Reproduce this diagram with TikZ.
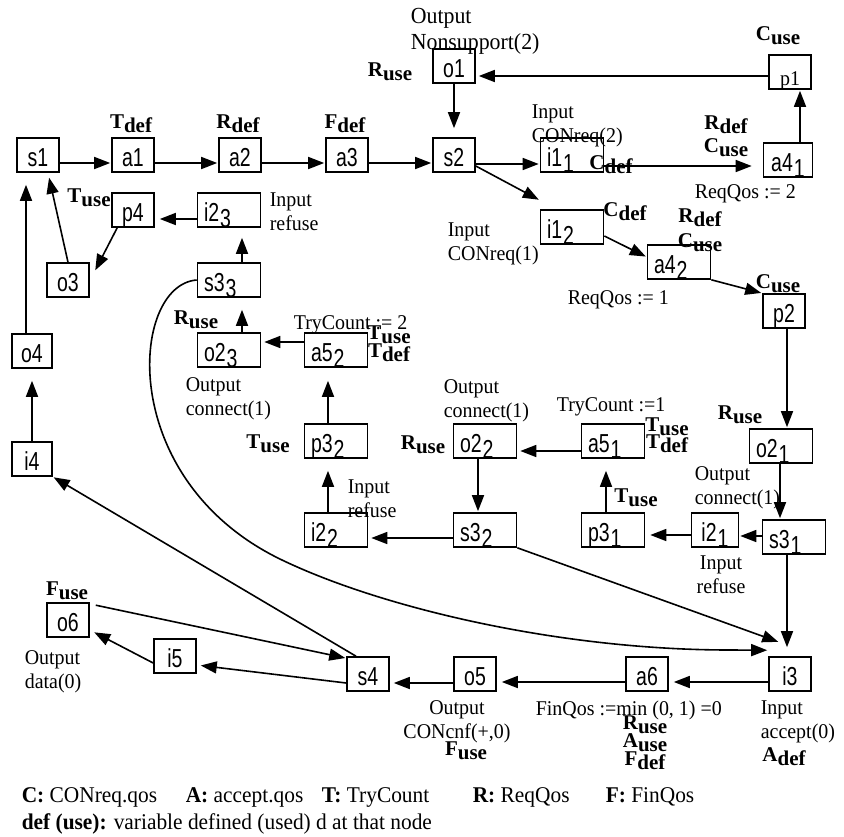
\documentclass[tikz,border=0pt]{standalone}
\usepackage{fontspec}
\setmainfont{Liberation Serif}[FakeStretch=0.95]
\newfontfamily\varfont{Liberation Serif}
\newfontfamily\boxfont{Liberation Sans}[FakeStretch=0.75]
\usetikzlibrary{arrows.meta}

\newcommand{\vardu}[2]{\textbf{#1\raisebox{-4pt}{#2}}}
\newcommand{\bsub}[1]{\kern1pt\raisebox{-6pt}{#1}}

\tikzset{
  box/.style={draw, minimum width=42pt, minimum height=34pt, inner sep=0pt,
              text height=24pt, text depth=2pt, font=\boxfont\fontsize{26}{26}\selectfont},
  wbox/.style={box, minimum width=63pt, text width=50pt, align=left},
  lbl/.style={inner sep=0pt, anchor=north west, align=left, font=\fontsize{21}{24}\selectfont},
  var/.style={inner sep=0pt, align=center, font=\varfont\fontsize{21}{24}\selectfont},
}

\begin{document}
\begin{tikzpicture}[x=1pt,y=-1pt,>={Triangle[length=16pt,width=12pt]},shorten >=1pt,line width=1.6pt]
\useasboundingbox (0,0) rectangle (844,836);

% process boxes
\node[box]  (s1)  at (38,155)  {s1};
\node[box]  (a1)  at (133,155) {a1};
\node[box]  (a2)  at (240,155) {a2};
\node[box]  (a3)  at (347,155) {a3};
\node[box]  (s2)  at (454,155) {s2};
\node[wbox] (i11) at (572,155) {i1\bsub{1}};
\node[box]  (o1)  at (454,66)  {o1};
\node[box, font=\fontsize{21}{21}\selectfont, text height=28pt, text depth=2pt]
            (p1)  at (790,72)  {p1};
\node[box, minimum width=49pt] (a41) at (788,160) {a4\bsub{1}};
\node[box]  (p4)  at (133,210) {p4};
\node[wbox] (i23) at (229,210) {i2\bsub{3}};
\node[box]  (o3)  at (68,280)  {o3};
\node[wbox] (s33) at (229,280) {s3\bsub{3}};
\node[wbox] (o23) at (229,350) {o2\bsub{3}};
\node[wbox] (a52) at (336,350) {a5\bsub{2}};
\node[box, minimum width=40pt] (o4) at (32,351) {o4};
\node[box, minimum width=40pt] (i4) at (32,459) {i4};
\node[wbox] (p32) at (336,441) {p3\bsub{2}};
\node[wbox] (i22) at (336,530) {i2\bsub{2}};
\node[wbox] (i12) at (572,227) {i1\bsub{2}};
\node[wbox] (a42) at (679,262) {a4\bsub{2}};
\node[box]  (p2)  at (784,311) {p2};
\node[wbox] (o21) at (781,446) {o2\bsub{1}};
\node[wbox] (o22) at (485,441) {o2\bsub{2}};
\node[wbox] (a51) at (613,441) {a5\bsub{1}};
\node[wbox] (s32) at (485,530) {s3\bsub{2}};
\node[wbox] (p31) at (613,530) {p3\bsub{1}};
\node[box, minimum width=47pt] (i21) at (715,530) {i2\bsub{1}};
\node[wbox] (s31) at (794,537) {s3\bsub{1}};
\node[box]  (i3)  at (790,674) {i3};
\node[box]  (a6)  at (647,674) {a6};
\node[box]  (o5)  at (475,674) {o5};
\node[box]  (s4)  at (368,674) {s4};
\node[box]  (i5)  at (175,656) {i5};
\node[box]  (o6)  at (68,620)  {o6};

% texts
\node[lbl, font=\fontsize{23}{26}\selectfont] (tnons) at (410,7) {Output\\Nonsupport(2)};
\node[lbl] (tcon2)  at (531,104) {Input\\CONreq(2)};
\node[lbl] (treq2)  at (694,184) {ReqQos := 2};
\node[lbl] (tcon1)  at (447,222) {Input\\CONreq(1)};
\node[lbl] (treq1)  at (567,290) {ReqQos := 1};
\node[lbl] (tref3)  at (269,192) {Input\\refuse};
\node[lbl] (ttry2)  at (293,315) {TryCount := 2};
\node[lbl] (tconn3) at (185,377) {Output\\connect(1)};
\node[lbl] (tref2)  at (347,479) {Input\\refuse};
\node[lbl] (tconn2) at (443,379) {Output\\connect(1)};
\node[lbl] (ttry1)  at (556,397) {TryCount :=1};
\node[lbl] (tconn1) at (694,466) {Output\\connect(1)};
\node[lbl, anchor=north, align=center] (tref1) at (721,555) {Input\\refuse};
\node[lbl] (tdata)  at (24,650)  {Output\\data(0)};
\node[lbl, anchor=north, align=center] (tcnf) at (457,700) {Output\\CONcnf(+,0)};
\node[lbl] (tfin)   at (535,700) {FinQos :=min (0, 1) =0};
\node[lbl] (tacc)   at (760,700) {Input\\accept(0)};

% def / use marks
\node[var] (vo1)  at (390,72)  {\vardu{R}{use}};
\node[var] (vp1)  at (778,36)  {\vardu{C}{use}};
\node[var] (va1)  at (131,124) {\vardu{T}{def}};
\node[var] (va2)  at (238,124) {\vardu{R}{def}};
\node[var] (va3)  at (345,124) {\vardu{F}{def}};
\node[var] (va41) at (726,136) {\vardu{R}{def}\\[-1pt]\vardu{C}{use}};
\node[var] (vi11) at (611,165) {\vardu{C}{def}};
\node[var] (vp4)  at (89,198)  {\vardu{T}{use}};
\node[var] (vi12) at (625,212) {\vardu{C}{def}};
\node[var] (va42) at (700,230) {\vardu{R}{def}\\[1pt]\vardu{C}{use}};
\node[var] (vp2)  at (778,284) {\vardu{C}{use}};
\node[var] (vo23) at (196,320) {\vardu{R}{use}};
\node[var] (va52) at (389,344) {\vardu{T}{use}\\[-6pt]\vardu{T}{def}};
\node[var] (vp32) at (268,444) {\vardu{T}{use}};
\node[var] (vo22) at (423,445) {\vardu{R}{use}};
\node[var] (va51) at (667,435) {\vardu{T}{use}\\[-7pt]\vardu{T}{def}};
\node[var] (vo21) at (740,415) {\vardu{R}{use}};
\node[var] (vp31) at (636,498) {\vardu{T}{use}};
\node[var] (vo6)  at (67,591)  {\vardu{F}{use}};
\node[var] (vo5)  at (466,751) {\vardu{F}{use}};
\node[var] (va6)  at (645,743) {\vardu{R}{use}\\[-6pt]\vardu{A}{use}\\[-6pt]\vardu{F}{def}};
\node[var] (vi3)  at (784,757) {\vardu{A}{def}};

% legend
\node[lbl, font=\fontsize{22.5}{27}\selectfont] (legend) at (21,787) {\makebox[164pt][l]{\textbf{C:} CONreq.qos}\makebox[136pt][l]{\textbf{A:} accept.qos}\makebox[151pt][l]{\textbf{T:} TryCount}\makebox[133pt][l]{\textbf{R:} ReqQos}\textbf{F:} FinQos\\
  \textbf{def (use):} variable defined (used) d at that node};

\path[->] ([yshift=-8pt]s1.east)   edge ([yshift=-8pt]a1.west)
          ([yshift=-8pt]a1.east)   edge ([yshift=-8pt]a2.west)
          ([yshift=-8pt]a2.east)   edge ([yshift=-8pt]a3.west)
          ([yshift=-8pt]a3.east)   edge ([yshift=-8pt]s2.west)
          ([yshift=-9pt]s2.east)   edge ([yshift=-9pt]i11.west)
          ([yshift=-11pt]s2.east)  edge ([yshift=9pt]i12.north west)
          ([yshift=-11pt]i11.east) edge [shorten >=11pt] ([yshift=-6pt]a41.west)
          ([xshift=12pt]a41.north) edge ([xshift=10pt]p1.south)
          ([yshift=-4pt]p1.west)   edge [shorten >=3pt] ([yshift=-10pt]o1.east)
          (o1)                     edge [shorten >=9pt] (s2)
          ([yshift=-9pt]i12.east)  edge ([yshift=5pt]a42.west)
          (a42.south east)         edge (p2.north west)
          ([xshift=3pt]p2.south)   edge ([xshift=6pt]o21.north)
          ([xshift=-1pt]o21.south) edge ([xshift=-14pt]s31.north)
          ([yshift=1pt]s31.west)   edge ([yshift=-6pt]i21.east)
          ([yshift=-5pt]i21.west)  edge [shorten >=5pt] ([yshift=-5pt]p31.east)
          ([xshift=-7pt]p31.north) edge [shorten >=12pt] ([xshift=-7pt]a51.south)
          ([yshift=-10pt]a51.west) edge [shorten >=3pt] ([yshift=-10pt]o22.east)
          ([xshift=-7pt]o22.south) edge ([xshift=-7pt]s32.north)
          ([yshift=-8pt]s32.west)  edge [shorten >=3pt] ([yshift=-8pt]i22.east)
          (s32.south east)         edge ([xshift=11pt,yshift=14pt]i3.north west)
          ([xshift=-8pt]i22.north) edge [shorten >=12pt] ([xshift=-8pt]p32.south)
          ([xshift=-8pt]p32.north) edge [shorten >=13pt] ([xshift=-8pt]a52.south)
          ([yshift=8pt]a52.west)   edge [shorten >=3pt] ([yshift=8pt]o23.east)
          ([xshift=13pt]o23.north) edge [shorten >=12pt] ([xshift=13pt]s33.south)
          ([xshift=13pt]s33.north) edge [shorten >=10pt] ([xshift=13pt]i23.south)
          ([yshift=-9pt]i23.west)  edge [shorten >=5pt] ([yshift=-9pt]p4.east)
          ([xshift=6pt]p4.south west) edge ([xshift=5pt,yshift=-9pt]o3.north east)
          (o3.north)               edge [shorten >=5pt] ([xshift=10pt]s1.south)
          ([xshift=-6pt]o4.north)  edge [shorten >=12pt] ([xshift=-12pt]s1.south)
          (i4)                     edge [shorten >=12pt] (o4)
          ([xshift=-12pt]s4.north) edge (i4.south east)
          ([xshift=-7pt]s31.south) edge [shorten >=9pt] ([xshift=-3pt]i3.north)
          ([yshift=-8pt]i3.west)   edge [shorten >=5pt] ([yshift=-8pt]a6.east)
          ([yshift=-8pt]a6.west)   edge [shorten >=5pt] ([yshift=-8pt]o5.east)
          ([yshift=-9pt]o5.west)   edge [shorten >=4pt] ([yshift=-9pt]s4.east)
          ([yshift=-9pt]s4.west)   edge [shorten >=4pt] ([yshift=-9pt]i5.east)
          ([yshift=-7pt]i5.west)   edge [shorten >=5pt] ([yshift=-10pt]o6.east)
          ([xshift=6pt,yshift=-3pt]o6.north east) edge ([yshift=-2pt]s4.north west);

% long way round from s3_3
\draw[->] (s33.west) .. controls (130,285) and (115,480) .. (282,560)
          .. controls (382,608) and (560,650) .. (730,650) -- ([yshift=6pt]i3.north west);
\end{tikzpicture}
\end{document}
